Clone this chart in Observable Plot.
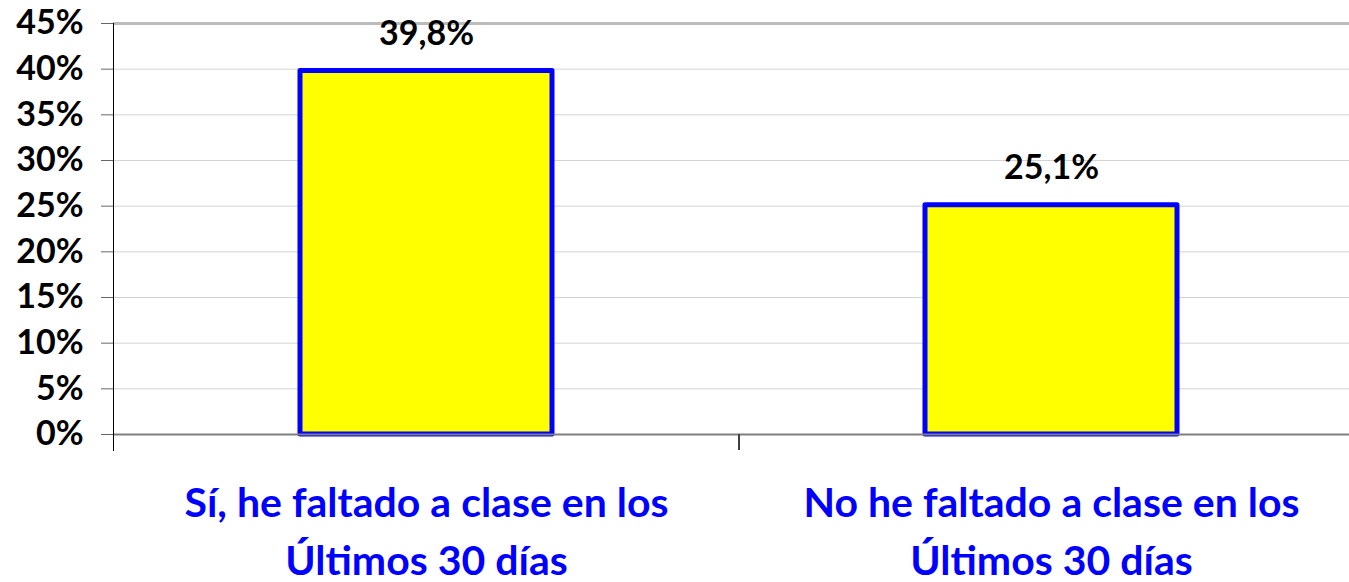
<!DOCTYPE html>
<html><head><meta charset="utf-8">
<script src="https://cdn.jsdelivr.net/npm/d3@7"></script>
<script src="https://cdn.jsdelivr.net/npm/@observablehq/plot@0.6"></script>
<style>body{margin:0;background:#fff;overflow:hidden}</style>
</head><body><div id="chart"></div>
<script>
const categories = ["Sí, he faltado a clase en los\nÚltimos 30 días", "No he faltado a clase en los\nÚltimos 30 días"];
const values = [39.8, 25.1];
const valueLabels = ["39,8%", "25,1%"];
const yTicks = [0, 5, 10, 15, 20, 25, 30, 35, 40, 45];

const data = categories.map((c, i) => ({category: c, value: values[i], label: valueLabels[i]}));
const step = 625;

const plot = Plot.plot({
  width: 1349, height: 582,
  marginTop: 23, marginBottom: 148, marginLeft: 113, marginRight: 0,
  style: {fontFamily: "Lato, sans-serif", fontWeight: "bold", background: "#fff", overflow: "visible"},
  x: {domain: categories, range: [113, 113 + 2 * step], paddingInner: 0.597, paddingOuter: 0.2985, axis: null},
  y: {domain: [0, 45], axis: null},
  marks: [
    Plot.ruleY(yTicks.filter(d => d > 0 && d < 45), {stroke: "#d4d4d4", strokeWidth: 1}),
    Plot.ruleY(yTicks.filter(d => d === 45), {stroke: "#bcbcbc", strokeWidth: 3}),
    Plot.barY(data, {x: "category", y: "value", fill: "#ffff00", stroke: "#0000ff", strokeWidth: 5, strokeLinejoin: "round"}),
    Plot.ruleY([0], {stroke: "#7f7f7f", strokeWidth: 2}),
    Plot.frame({anchor: "left", stroke: "#000", insetBottom: -16}),
    Plot.ruleX(categories.slice(1), {x: d => d, dx: -step / 2, y1: 0, y2: 0, insetBottom: -16, stroke: "#404040", strokeWidth: 2}),
    Plot.axisY({ticks: yTicks, tickFormat: d => d + "%", tickSize: 12, tickPadding: 18, fontSize: 34, color: "#000", strokeOpacity: 0.6, label: null}),
    Plot.axisX({tickSize: 0, tickPadding: 42, fontSize: 41, fill: "#0000ff", lineHeight: 1.4, label: null}),
    Plot.text(data, {x: "category", y: "value", text: "label", dy: -37, fontSize: 34, fill: "#000"})
  ]
});
document.getElementById("chart").append(plot);
</script>
</body></html>
